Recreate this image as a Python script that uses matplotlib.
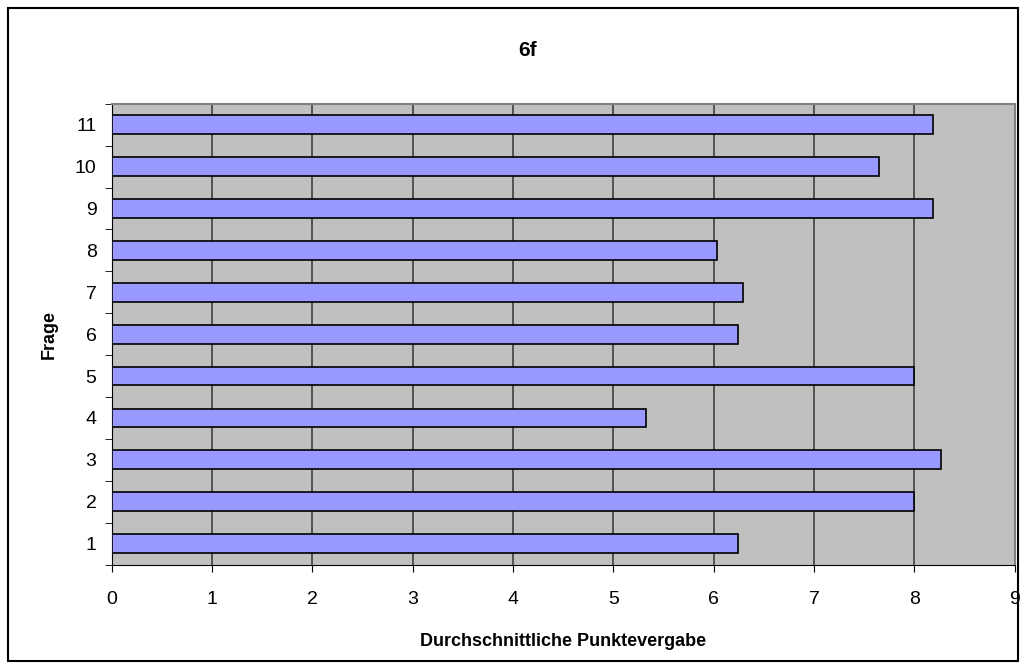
import matplotlib
matplotlib.use('Agg')
import matplotlib.pyplot as plt
from matplotlib.patches import Rectangle
import numpy as np

plt.rcParams['font.family'] = ['Liberation Sans', 'DejaVu Sans']

fragen = ['1', '2', '3', '4', '5', '6', '7', '8', '9', '10', '11']
punkte = [6.24, 8.0, 8.27, 5.32, 8.0, 6.24, 6.29, 6.03, 8.19, 7.65, 8.19]

fig = plt.figure(figsize=(10.26, 6.69), dpi=100)
ax = fig.add_axes([0.109, 0.156, 0.880, 0.689])

y = np.arange(len(fragen))
ax.set_facecolor('#C0C0C0')
ax.barh(y, punkte, height=0.45, color='#9999FF', edgecolor='black', linewidth=1.2, zorder=3)

ax.set_xlim(0, 9)
ax.set_ylim(-0.5, len(fragen) - 0.5)
ax.set_xticks(range(10))
ax.grid(axis='x', color='#404040', linewidth=1.2, zorder=1)
ax.set_axisbelow(True)

# y ticks between categories, labels at centers
ax.set_yticks(y)
ax.set_yticklabels(fragen)
ax.set_yticks(np.arange(-0.5, len(fragen)), minor=True)
ax.tick_params(axis='y', which='major', length=0, labelsize=14, pad=11)
ax.tick_params(axis='y', which='minor', length=5, direction='out')
ax.tick_params(axis='x', length=5, direction='out', labelsize=14, pad=14)

for s in ['top', 'right']:
    ax.spines[s].set_color('#808080')
    ax.spines[s].set_linewidth(1.5)
for s in ['left', 'bottom']:
    ax.spines[s].set_color('black')

ax.set_xlabel('Durchschnittliche Punktevergabe', fontsize=13, fontweight='bold', labelpad=18)
ax.set_ylabel('Frage', fontsize=13, fontweight='bold', labelpad=12)
fig.text(0.514, 0.924, '6f', ha='center', va='center', fontsize=15, fontweight='bold')

fig.patches.append(Rectangle((0.008, 0.012), 0.984, 0.976, transform=fig.transFigure,
                             fill=False, edgecolor='black', linewidth=1.5))

fig.savefig('out.png', dpi=100)
